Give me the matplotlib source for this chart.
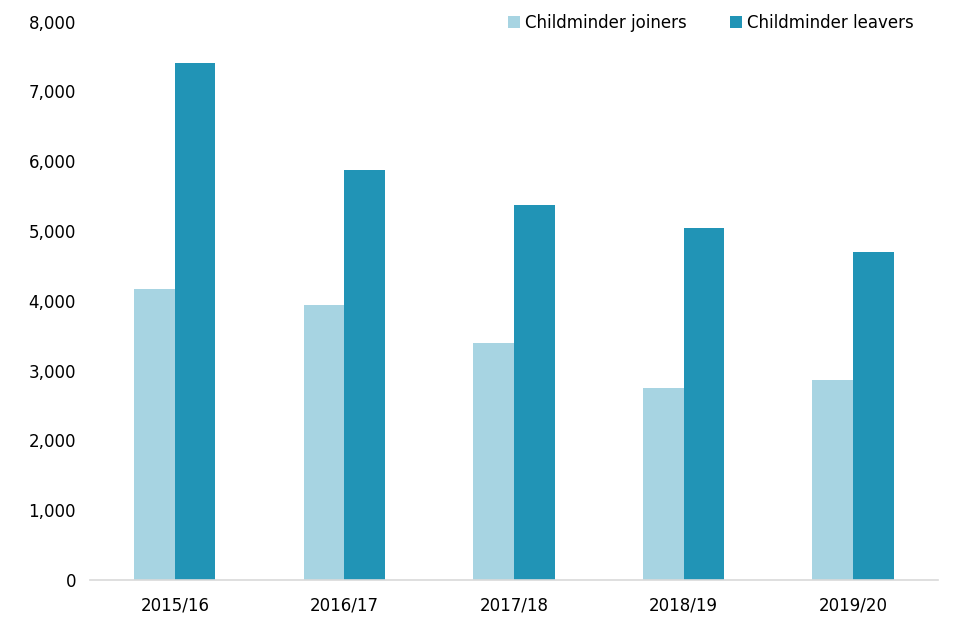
import matplotlib
matplotlib.use("Agg")
import matplotlib.pyplot as plt
import numpy as np
from matplotlib.ticker import FuncFormatter

years = ["2015/16", "2016/17", "2017/18", "2018/19", "2019/20"]
joiners = [4170, 3940, 3400, 2745, 2865]
leavers = [7410, 5870, 5370, 5040, 4700]

light = "#A7D4E2"
dark = "#2194B6"

fig = plt.figure(figsize=(9.6, 6.4), dpi=100)
ax = fig.add_axes([0.09375, 0.09375, 0.977 - 0.09375, 0.9664 - 0.09375])

x = np.arange(len(years))
w = 0.24
ax.bar(x - w/2, joiners, width=w, color=light, label="Childminder joiners")
ax.bar(x + w/2, leavers, width=w, color=dark, label="Childminder leavers")

ax.set_xlim(-0.5, len(years) - 0.5)
ax.set_ylim(0, 8000)
ax.set_yticks(np.arange(0, 8001, 1000))
ax.yaxis.set_major_formatter(FuncFormatter(lambda v, p: f"{int(v):,}"))
ax.set_xticks(x)
ax.set_xticklabels(years)
ax.tick_params(axis="both", length=0, labelsize=12, colors="#000000")
ax.tick_params(axis="y", pad=10)
ax.tick_params(axis="x", pad=12)

for s in ["top", "right", "left"]:
    ax.spines[s].set_visible(False)
ax.spines["bottom"].set_color("#D9D9D9")
ax.spines["bottom"].set_linewidth(1.2)

leg = ax.legend(loc="upper right", bbox_to_anchor=(0.989, 1.041), ncol=2, frameon=False,
                fontsize=12, handlelength=0.7, handleheight=0.7, handletextpad=0.3,
                columnspacing=2.6)

fig.savefig("out.png", dpi=100)
